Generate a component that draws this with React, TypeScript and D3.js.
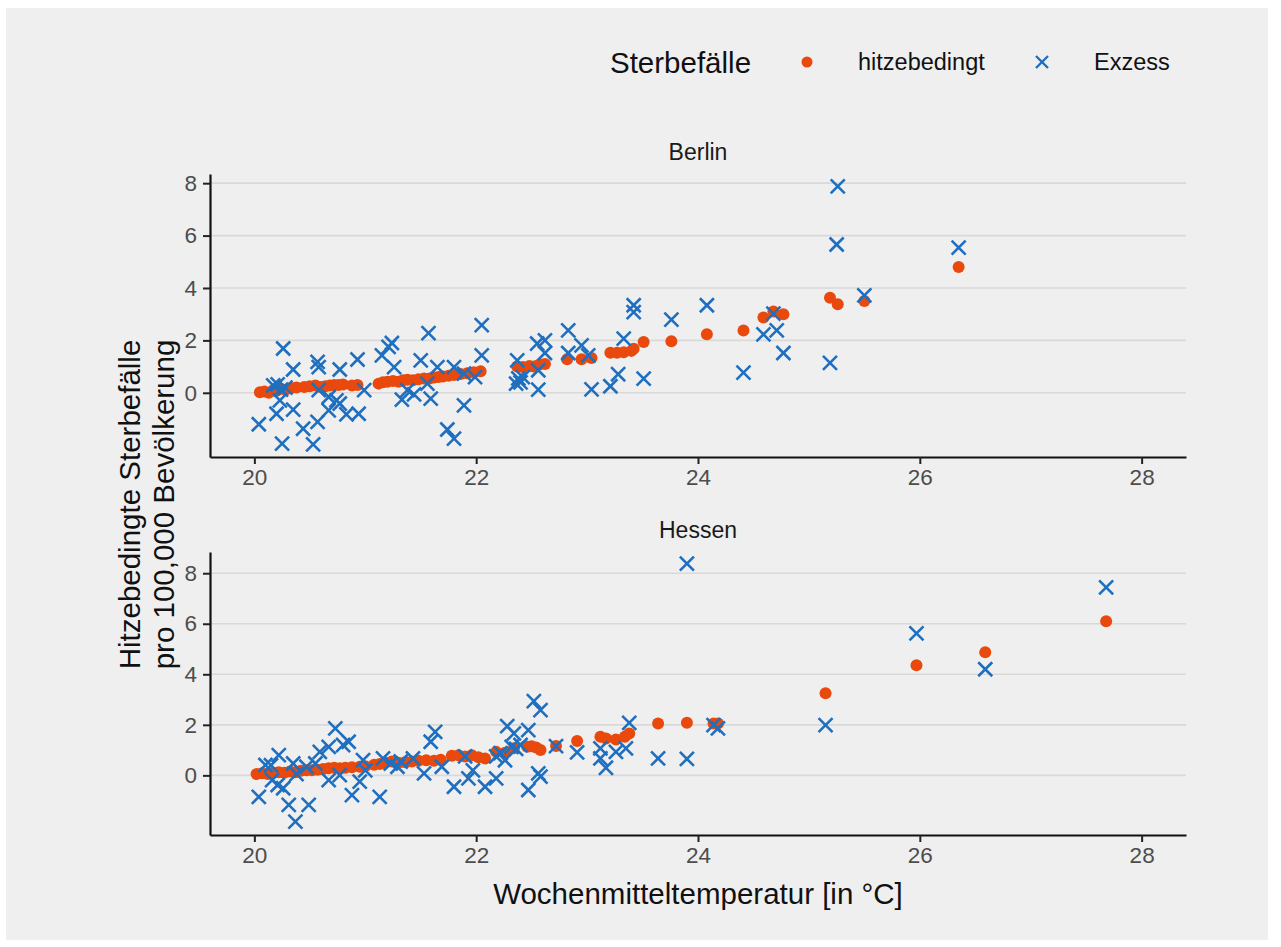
import React, { useRef, useEffect } from "react";
import * as d3 from "d3";

// [Wochenmitteltemperatur, Sterbefälle pro 100.000]
const berlinHitze: [number, number][] = [
  [20.05, 0.02], [20.09, 0.05], [20.13, 0.0], [20.17, 0.1], [20.2, 0.08], [20.24, 0.15], [20.28, 0.12],
  [20.33, 0.18], [20.38, 0.2], [20.45, 0.22], [20.5, 0.25], [20.55, 0.28], [20.6, 0.22], [20.64, 0.25],
  [20.68, 0.28], [20.72, 0.3], [20.76, 0.3], [20.8, 0.32], [20.88, 0.28], [20.93, 0.3],
  [21.12, 0.35], [21.16, 0.4], [21.2, 0.42], [21.25, 0.45], [21.3, 0.42], [21.34, 0.48], [21.38, 0.5],
  [21.43, 0.48], [21.48, 0.52], [21.53, 0.55], [21.58, 0.55], [21.62, 0.58], [21.66, 0.6], [21.7, 0.62],
  [21.75, 0.65], [21.8, 0.68], [21.86, 0.72], [21.92, 0.75], [21.98, 0.78], [22.04, 0.82],
  [22.37, 1.0], [22.42, 0.98], [22.48, 1.02], [22.52, 1.0], [22.57, 1.08], [22.62, 1.1], [22.82, 1.28],
  [22.95, 1.28], [23.04, 1.33], [23.21, 1.53], [23.27, 1.53], [23.33, 1.55], [23.4, 1.6], [23.42, 1.68],
  [23.51, 1.94], [23.76, 1.97], [24.08, 2.23], [24.41, 2.38], [24.59, 2.87], [24.68, 3.1], [24.77, 3.0],
  [25.19, 3.63], [25.26, 3.38], [25.5, 3.5], [26.35, 4.8],
];

const berlinExzess: [number, number][] = [
  [20.04, -1.2], [20.2, -0.8], [20.23, -0.29], [20.25, -1.94], [20.26, 1.69], [20.17, 0.28], [20.21, 0.32],
  [20.24, 0.12], [20.28, 0.2], [20.35, 0.89], [20.35, -0.64], [20.44, -1.37], [20.53, -1.97], [20.57, -1.11],
  [20.57, 1.18], [20.58, 0.98], [20.58, 0.1], [20.67, -0.67], [20.67, -0.16], [20.74, -0.29], [20.77, 0.89],
  [20.77, -0.41], [20.83, -0.82], [20.94, -0.8], [20.93, 1.27], [20.99, 0.1],
  [21.15, 1.43], [21.21, 1.75], [21.24, 1.9], [21.26, 0.98], [21.33, -0.26], [21.38, 0.1], [21.44, -0.06],
  [21.5, 1.24], [21.57, 2.28], [21.56, 0.35], [21.59, -0.22], [21.65, 0.98], [21.74, -1.4], [21.8, -1.75],
  [21.8, 0.98], [21.89, -0.48], [21.89, 0.73], [22.05, 2.58], [22.05, 1.43], [21.99, 0.6],
  [22.37, 1.24], [22.38, 0.55], [22.4, 0.4], [22.42, 0.6], [22.36, 0.35], [22.55, 1.88], [22.62, 2.0],
  [22.62, 1.52], [22.56, 0.86], [22.56, 0.12], [22.83, 2.38], [22.83, 1.52], [22.95, 1.81], [23.01, 1.43],
  [23.04, 0.13], [23.21, 0.25], [23.28, 0.71], [23.33, 2.07], [23.42, 3.34], [23.42, 3.08], [23.51, 0.54],
  [23.76, 2.79], [24.08, 3.34], [24.41, 0.77], [24.59, 2.23], [24.68, 3.02], [24.71, 2.38], [24.77, 1.52],
  [25.19, 1.14], [25.26, 7.88], [25.25, 5.66], [25.5, 3.72], [26.35, 5.54],
];

const hessenHitze: [number, number][] = [
  [20.02, 0.05], [20.07, 0.08], [20.12, 0.05], [20.17, 0.1], [20.22, 0.12], [20.27, 0.1], [20.32, 0.15],
  [20.37, 0.12], [20.42, 0.18], [20.47, 0.2], [20.52, 0.2], [20.57, 0.22], [20.62, 0.25], [20.67, 0.28],
  [20.72, 0.3], [20.77, 0.28], [20.82, 0.3], [20.88, 0.32], [20.95, 0.34], [21.0, 0.36],
  [21.08, 0.42], [21.13, 0.45], [21.18, 0.5], [21.24, 0.55], [21.3, 0.5], [21.36, 0.52], [21.42, 0.55],
  [21.48, 0.58], [21.55, 0.6], [21.62, 0.58], [21.68, 0.62],
  [21.78, 0.78], [21.84, 0.8], [21.9, 0.75], [21.96, 0.8], [22.02, 0.72], [22.08, 0.67], [22.18, 0.93],
  [22.26, 0.9], [22.34, 1.07], [22.46, 1.13], [22.5, 1.15], [22.54, 1.1], [22.58, 1.0], [22.72, 1.16],
  [22.91, 1.36], [23.12, 1.53], [23.17, 1.46], [23.26, 1.42], [23.34, 1.53], [23.38, 1.66], [23.64, 2.05],
  [23.9, 2.08], [24.14, 2.05], [24.18, 2.05], [25.15, 3.25], [25.97, 4.36], [26.59, 4.87], [27.68, 6.1],
];

const hessenExzess: [number, number][] = [
  [20.04, -0.85], [20.1, 0.41], [20.15, 0.4], [20.22, 0.8], [20.16, -0.19], [20.21, -0.38], [20.26, -0.51],
  [20.31, -1.17], [20.37, -1.83], [20.35, 0.47], [20.38, 0.05], [20.49, -1.17], [20.47, 0.34], [20.55, 0.47],
  [20.59, 0.93], [20.67, 1.13], [20.73, 1.86], [20.8, 1.2], [20.85, 1.33], [20.67, -0.19], [20.77, 0.01],
  [20.88, -0.78], [20.95, -0.25], [20.98, 0.6], [21.0, 0.2], [21.13, -0.85], [21.16, 0.67], [21.23, 0.47],
  [21.29, 0.34], [21.32, 0.55], [21.43, 0.67], [21.53, 0.08], [21.59, 1.33], [21.63, 1.72], [21.69, 0.34],
  [21.8, -0.45], [21.9, 0.75], [21.93, -0.12], [21.97, 0.2], [22.08, -0.45], [22.18, -0.12], [22.18, 0.75],
  [22.28, 1.95], [22.34, 1.66], [22.32, 1.13], [22.47, 1.79], [22.52, 2.94], [22.58, 2.58], [22.47, -0.58],
  [22.36, 1.05], [22.4, 1.2], [22.22, 0.88], [22.26, 0.6], [22.56, 0.08], [22.58, -0.05], [22.72, 1.16],
  [22.91, 0.91], [23.12, 1.07], [23.12, 0.67], [23.17, 0.3], [23.26, 0.93], [23.35, 1.07], [23.38, 2.08],
  [23.64, 0.67], [23.9, 0.65], [23.9, 8.38], [24.14, 1.99], [24.18, 1.86], [25.15, 1.99], [25.97, 5.62],
  [26.59, 4.2], [27.68, 7.44],
];

const xTicks = [20, 22, 24, 26, 28];
const yTicks = [0, 2, 4, 6, 8];

const panels = [
  { name: "Berlin", hitze: berlinHitze, exzess: berlinExzess, yDomain: [-2.45, 8.35], top: 174 },
  { name: "Hessen", hitze: hessenHitze, exzess: hessenExzess, yDomain: [-2.36, 8.84], top: 552 },
];

const ORANGE = "#e9490c";
const BLUE = "#1f6fc0";
const FONT = "'Liberation Sans', Arial, Helvetica, sans-serif";

const App = () => {
  const ref = useRef<SVGSVGElement>(null);

  useEffect(() => {
    document.body.style.margin = "0";
    const svg = d3.select(ref.current);
    svg.selectChildren().remove();

    const width = 1281,
      height = 947;
    const left = 210,
      right = 1186,
      panelH = 283;

    // Hintergrund
    svg.append("rect").attr("width", width).attr("height", height).attr("fill", "#ffffff");
    svg.append("rect").attr("x", 6).attr("y", 8).attr("width", 1262).attr("height", 932).attr("fill", "#efefef");

    const x = d3.scaleLinear().domain([19.6, 28.4]).range([left, right]);
    const times = d3.symbol(d3.symbolTimes, 130);

    panels.forEach((p) => {
      const y = d3.scaleLinear().domain(p.yDomain).range([p.top + panelH, p.top]);
      const g = svg.append("g").style("font-family", FONT);

      // Gitterlinien
      g.selectAll(".grid")
        .data(yTicks)
        .enter()
        .append("line")
        .attr("x1", left)
        .attr("x2", right)
        .attr("y1", (d) => y(d))
        .attr("y2", (d) => y(d))
        .attr("stroke", "#d9d9d9")
        .attr("stroke-width", 1.6);

      // Achsen
      const yAxis = g
        .append("g")
        .attr("transform", `translate(${left},0)`)
        .call(d3.axisLeft(y).tickValues(yTicks).tickSize(7).tickPadding(6).tickSizeOuter(0));
      const xAxis = g
        .append("g")
        .attr("transform", `translate(0,${p.top + panelH})`)
        .call(d3.axisBottom(x).tickValues(xTicks).tickSize(7).tickPadding(5).tickSizeOuter(0));
      [yAxis, xAxis].forEach((a) => {
        a.select(".domain").attr("stroke", "#111").attr("stroke-width", 2.2);
        a.selectAll(".tick line").attr("stroke", "#222").attr("stroke-width", 2);
        a.selectAll(".tick text")
          .attr("fill", "#4d4d4d")
          .style("font-size", "22.5px")
          .style("font-family", FONT);
      });

      // Facettentitel
      g.append("text")
        .attr("x", (left + right) / 2)
        .attr("y", p.top - 22)
        .attr("text-anchor", "middle")
        .attr("dominant-baseline", "central")
        .style("font-size", "23px")
        .attr("fill", "#1a1a1a")
        .text(p.name);

      // Punkte hitzebedingt
      g.selectAll(".hitze")
        .data(p.hitze)
        .enter()
        .append("circle")
        .attr("cx", (d) => x(d[0]))
        .attr("cy", (d) => y(d[1]))
        .attr("r", 6)
        .attr("fill", ORANGE);

      // Kreuze Exzess
      g.selectAll(".exzess")
        .data(p.exzess)
        .enter()
        .append("path")
        .attr("d", times)
        .attr("transform", (d) => `translate(${x(d[0])},${y(d[1])})`)
        .attr("fill", "none")
        .attr("stroke", BLUE)
        .attr("stroke-width", 2.6);
    });

    // Achsentitel
    svg.append("text")
      .attr("x", (left + right) / 2)
      .attr("y", 893)
      .attr("text-anchor", "middle")
      .attr("dominant-baseline", "central")
      .style("font-family", FONT)
      .style("font-size", "29.5px")
      .attr("fill", "#111")
      .text("Wochenmitteltemperatur [in °C]");

    const yt = svg.append("text")
      .attr("transform", "translate(140,504.5) rotate(-90)")
      .attr("text-anchor", "middle")
      .style("font-family", FONT)
      .style("font-size", "29.5px")
      .attr("fill", "#111");
    yt.append("tspan").attr("x", 0).attr("y", 0).text("Hitzebedingte Sterbefälle");
    yt.append("tspan").attr("x", 0).attr("y", 34).text("pro 100,000 Bevölkerung");

    // Legende
    const lg = svg.append("g").style("font-family", FONT);
    lg.append("text")
      .attr("x", 610)
      .attr("y", 62)
      .attr("dominant-baseline", "central")
      .style("font-size", "29.5px")
      .attr("fill", "#111")
      .text("Sterbefälle");
    lg.append("circle").attr("cx", 807).attr("cy", 62).attr("r", 5.5).attr("fill", ORANGE);
    lg.append("text")
      .attr("x", 858)
      .attr("y", 62)
      .attr("dominant-baseline", "central")
      .style("font-size", "23.5px")
      .attr("fill", "#111")
      .text("hitzebedingt");
    lg.append("path")
      .attr("d", d3.symbol(d3.symbolTimes, 96)())
      .attr("transform", "translate(1042,62)")
      .attr("fill", "none")
      .attr("stroke", BLUE)
      .attr("stroke-width", 2.4);
    lg.append("text")
      .attr("x", 1094)
      .attr("y", 62)
      .attr("dominant-baseline", "central")
      .style("font-size", "23.5px")
      .attr("fill", "#111")
      .text("Exzess");
  }, []);

  return <svg ref={ref} width={1281} height={947} style={{ display: "block" }} />;
};

export default App;
